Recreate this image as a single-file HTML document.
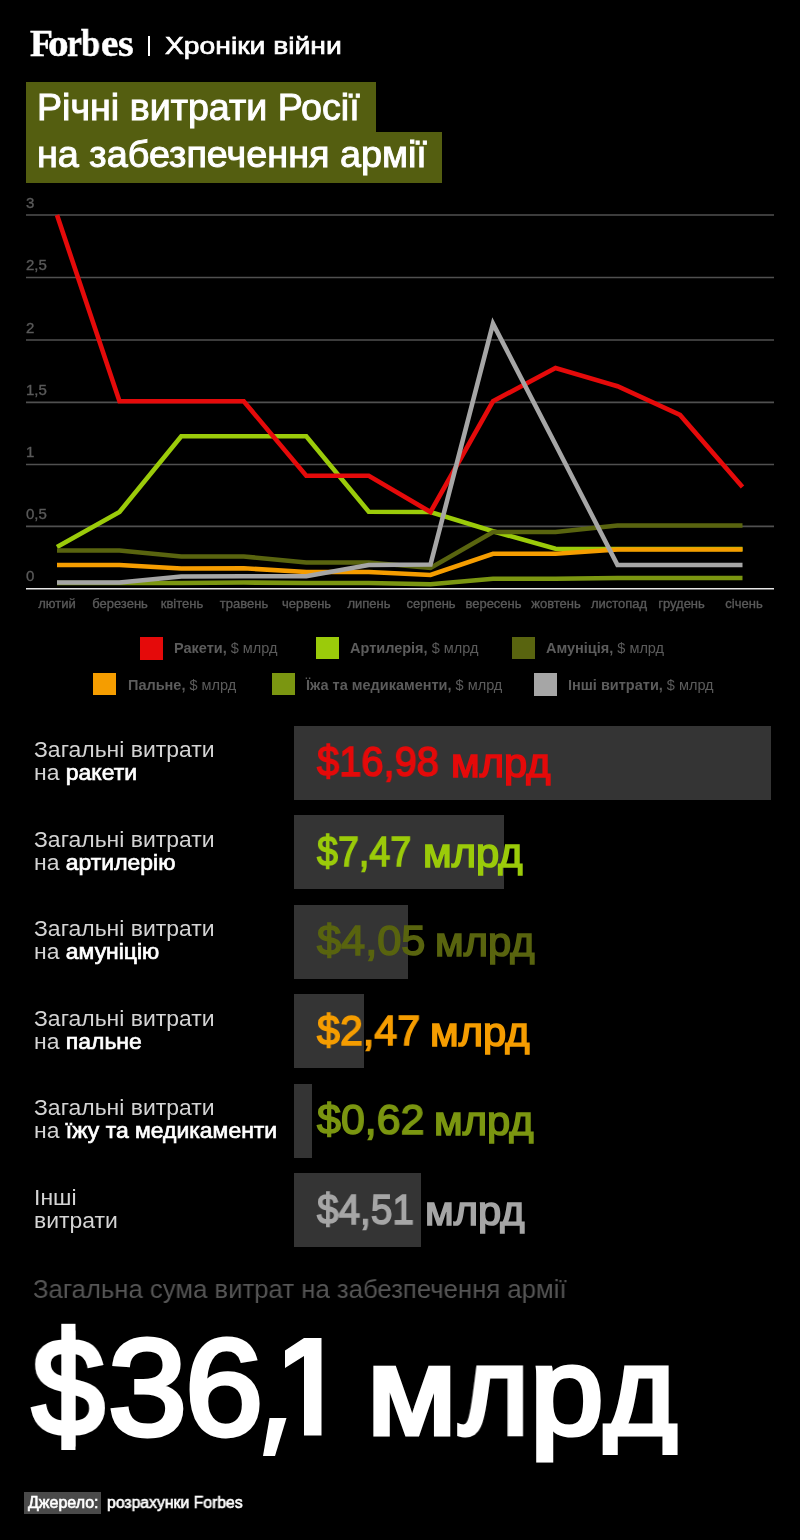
<!DOCTYPE html>
<html><head><meta charset="utf-8">
<style>
html,body{margin:0;padding:0;background:#000;}
body{width:800px;height:1540px;position:relative;overflow:hidden;font-family:"Liberation Sans",sans-serif;}
.a{position:absolute;white-space:nowrap;line-height:1;will-change:transform;}
.sx{transform-origin:0 0;}
</style></head><body>

<!-- header -->
<div id="forbes"><div class="a fb" style="left:30.4px;transform:scaleX(1.0);">F</div><div class="a fb" style="left:48.3px;transform:scaleX(1.1);">o</div><div class="a fb" style="left:66.9px;transform:scaleX(0.9);">r</div><div class="a fb" style="left:80.64px;transform:scaleX(0.917);">b</div><div class="a fb" style="left:101.2px;transform:scaleX(1.043);">e</div><div class="a fb" style="left:117.8px;transform:scaleX(1.069);">s</div></div>
<style>.fb{top:24.6px;font-family:"Liberation Serif",serif;font-weight:bold;font-size:37.5px;color:#fff;-webkit-text-stroke:0.5px #fff;transform-origin:0 0;}</style>
<div class="a" style="left:147.7px;top:36.3px;width:1.9px;height:20.3px;background:#fff;"></div>
<div class="a sx" id="hron" style="left:164.8px;top:33.6px;font-size:24px;color:#fff;-webkit-text-stroke:0.7px #fff;transform:scaleX(1.178);">Хроніки війни</div>

<!-- title -->
<div class="a" style="left:26px;top:82px;width:349.6px;height:50px;background:#545e10;"></div>
<div class="a" style="left:26px;top:132px;width:415.6px;height:50.6px;background:#545e10;"></div>
<div class="a sx" id="t1" style="left:36.6px;top:88.6px;font-size:37px;color:#fff;-webkit-text-stroke:1px #fff;transform:scaleX(1.017);">Річні витрати Росії</div>
<div class="a sx" id="t2" style="left:36.6px;top:136px;font-size:37px;color:#fff;-webkit-text-stroke:1px #fff;transform:scaleX(1.021);">на забезпечення армії</div>

<!-- chart -->
<svg class="a" style="left:0;top:0" width="800" height="620" viewBox="0 0 800 620">
 <g stroke="#505050" stroke-width="1.6">
  <line x1="26" y1="215" x2="774" y2="215"/>
  <line x1="26" y1="277.5" x2="774" y2="277.5"/>
  <line x1="26" y1="340" x2="774" y2="340"/>
  <line x1="26" y1="402.4" x2="774" y2="402.4"/>
  <line x1="26" y1="464.5" x2="774" y2="464.5"/>
  <line x1="26" y1="526.4" x2="774" y2="526.4"/>
 </g>
 <line x1="26" y1="588.75" x2="774" y2="588.75" stroke="#e6e6e6" stroke-width="1.6"/>
 <g font-family="Liberation Sans" font-size="15" fill="#5a5a5a" stroke="#5a5a5a" stroke-width="0.35">
  <text x="26" y="207.5">3</text>
  <text x="26" y="270.25">2,5</text>
  <text x="26" y="332.5">2</text>
  <text x="26" y="394.7">1,5</text>
  <text x="26" y="456.9">1</text>
  <text x="26" y="518.8">0,5</text>
  <text x="26" y="581">0</text>
 </g>
 <g font-family="Liberation Sans" font-size="13" fill="#5a5a5a" stroke="#5a5a5a" stroke-width="0.35" text-anchor="middle">
  <text x="57" y="607.8">лютий</text>
  <text x="120" y="607.8">березень</text>
  <text x="182" y="607.8">квітень</text>
  <text x="244" y="607.8">травень</text>
  <text x="306.5" y="607.8">червень</text>
  <text x="369" y="607.8">липень</text>
  <text x="431" y="607.8">серпень</text>
  <text x="493.5" y="607.8">вересень</text>
  <text x="556" y="607.8">жовтень</text>
  <text x="619" y="607.8">листопад</text>
  <text x="681.5" y="607.8">грудень</text>
  <text x="744" y="607.8">січень</text>
 </g>
 <g fill="none" stroke-width="4.6" stroke-linejoin="miter" stroke-linecap="butt">
  <polyline stroke="#7b9611" points="57,583 119.5,583 181.25,583 243.75,582.5 306.25,583 368.75,583 430.5,584.25 493,578.75 555.5,578.75 617.5,578 680,578 742.5,578"/>
  <polyline stroke="#9bcb0a" points="57,547 119.5,512 181.25,436.25 243.75,436.25 306.25,436.25 368.75,511.75 430.5,512 493,531.25 555.5,548.75 617.5,549 680,549 742.5,549"/>
  <polyline stroke="#59640f" points="57,550.5 119.5,550.5 181.25,556.5 243.75,556.5 306.25,562.5 368.75,562.5 430.5,568 493,532 555.5,532 617.5,525.5 680,525.5 742.5,525.5"/>
  <polyline stroke="#f59d00" points="57,565 119.5,565 181.25,568.5 243.75,568.25 306.25,572 368.75,572 430.5,575 493,553.75 555.5,553.75 617.5,549.5 680,549.5 742.5,549.5"/>
  <polyline stroke="#e50a0a" points="57,215 119.5,401.25 181.25,401.25 243.75,401.25 306.25,475.75 368.75,475.75 430.5,512 493,401.25 555.5,368 617.5,386.25 680,415 742.5,487"/>
  <polyline stroke="#a6a6a6" points="57,582.5 119.5,582.5 181.25,576.5 243.75,576.25 306.25,576.25 368.75,565 430.5,564.5 493,323.75 555.5,444.5 617.5,565 680,565 742.5,565"/>
 </g>
</svg>

<!-- legend -->
<div id="legend">
 <div class="a" style="left:140px;top:637px;width:23px;height:22.5px;background:#e50a0a"></div>
 <div class="a" style="left:315.6px;top:637px;width:22.7px;height:22.2px;background:#9bcb0a"></div>
 <div class="a" style="left:512px;top:637px;width:22.7px;height:22.2px;background:#59640f"></div>
 <div class="a" style="left:93px;top:673px;width:22.7px;height:22px;background:#f59d00"></div>
 <div class="a" style="left:272.4px;top:673px;width:22.7px;height:22px;background:#7b9611"></div>
 <div class="a" style="left:533.75px;top:673px;width:22.5px;height:23px;background:#a6a6a6"></div>
 <div class="a lg" style="left:174.4px;top:641px;"><b>Ракети,</b> $ млрд</div>
 <div class="a lg" style="left:350.1px;top:641px;"><b>Артилерія,</b> $ млрд</div>
 <div class="a lg" style="left:546.4px;top:641px;"><b>Амуніція,</b> $ млрд</div>
 <div class="a lg" style="left:127.6px;top:677.7px;"><b>Пальне,</b> $ млрд</div>
 <div class="a lg" style="left:306.3px;top:677.7px;"><b>Їжа та медикаменти,</b> $ млрд</div>
 <div class="a lg" style="left:568px;top:677.7px;"><b>Інші витрати,</b> $ млрд</div>
</div>
<style>.lg{font-size:14.5px;color:#5c5c5c;}</style>


<!-- bars -->
<style>
.lab{font-size:22.5px;color:#d4d4d4;line-height:23.25px;font-weight:normal;transform:scaleX(1.02);transform-origin:0 0;}
.lab b{font-weight:normal;color:#fff;-webkit-text-stroke:0.7px #fff;}
.bar{position:absolute;left:294px;height:74px;background:#343434;}
.val{font-size:46px;font-weight:bold;line-height:1;transform-origin:0 0;}
.vr{font-weight:normal;-webkit-text-stroke:1.6px currentColor;}
</style>
<div class="a lab" style="left:33.5px;top:738.1px;">Загальні витрати<br>на <b>ракети</b></div>
<div class="bar" style="top:725.5px;width:477px;"></div>
<div class="a val vr" style="left:316.92px;top:740.10px;font-size:43px;color:#e50a0a;transform:scaleX(0.9273);">$16,98</div>
<div class="a val vr" style="left:451.04px;top:743.30px;font-size:41px;color:#e50a0a;transform:scaleX(1.0179);">млрд</div>

<div class="a lab" style="left:33.5px;top:827.6px;">Загальні витрати<br>на <b>артилерію</b></div>
<div class="bar" style="top:815px;width:210px;"></div>
<div class="a val vr" style="left:316.89px;top:829.60px;font-size:43px;color:#9bcb0a;transform:scaleX(0.8756);">$7,47</div>
<div class="a val vr" style="left:422.64px;top:832.80px;font-size:41px;color:#9bcb0a;transform:scaleX(1.0179);">млрд</div>

<div class="a lab" style="left:33.5px;top:917.1px;">Загальні витрати<br>на <b>амуніцію</b></div>
<div class="bar" style="top:904.5px;width:113.75px;"></div>
<div class="a val vr" style="left:316.95px;top:919.10px;font-size:43px;color:#59640f;transform:scaleX(1.0077);">$4,05</div>
<div class="a val vr" style="left:435.14px;top:922.30px;font-size:41px;color:#59640f;transform:scaleX(1.0179);">млрд</div>

<div class="a lab" style="left:33.5px;top:1006.6px;">Загальні витрати<br>на <b>пальне</b></div>
<div class="bar" style="top:994px;width:70px;"></div>
<div class="a val vr" style="left:316.93px;top:1008.60px;font-size:43px;color:#f59d00;transform:scaleX(0.9588);">$2,47</div>
<div class="a val vr" style="left:429.64px;top:1011.80px;font-size:41px;color:#f59d00;transform:scaleX(1.0179);">млрд</div>

<div class="a lab" style="left:33.5px;top:1096.1px;">Загальні витрати<br>на <b>їжу та медикаменти</b></div>
<div class="bar" style="top:1083.5px;width:18.2px;"></div>
<div class="a val vr" style="left:316.95px;top:1098.10px;font-size:43px;color:#7b9611;transform:scaleX(0.9981);">$0,62</div>
<div class="a val vr" style="left:433.79px;top:1101.30px;font-size:41px;color:#7b9611;transform:scaleX(1.0179);">млрд</div>

<div class="a lab" style="left:33.5px;top:1185.6px;">Інші<br>витрати</div>
<div class="bar" style="top:1173px;width:127px;"></div>
<div class="a val vr" style="left:316.91px;top:1187.60px;font-size:43px;color:#a6a6a6;transform:scaleX(0.9007);">$4,51</div>
<div class="a val vr" style="left:424.84px;top:1190.80px;font-size:41px;color:#a6a6a6;transform:scaleX(1.0179);">млрд</div>

<!-- total -->
<div class="a" id="tot" style="left:32.8px;top:1275.8px;font-size:26.5px;color:#555;transform:scaleX(0.97);transform-origin:0 0;">Загальна сума витрат на забезпечення армії</div>
<div class="a bg1" style="left:32.2px;transform:scaleX(0.9455);">$</div>
<div class="a bg1" style="left:108.4px;transform:scaleX(1.0284);">3</div>
<div class="a bg1" style="left:185.4px;transform:scaleX(1.0182);">6</div>
<style>.bg1{top:1317.5px;font-size:138px;color:#fff;-webkit-text-stroke:5px #fff;transform-origin:0 0;}</style>
<svg class="a" style="left:0;top:1300px" width="800" height="200" viewBox="0 1300 800 200"><g fill="#fff">
 <rect x="61.3" y="1323.8" width="14.2" height="126.2"/>
 <polygon points="269.5,1418 286.5,1418 275,1456 263,1456"/>
 <polygon points="321.5,1338 304,1338 285,1350.5 285,1368 304,1356 304,1435.5 321.5,1435.5"/>
</g></svg>
<div class="a bg2" style="left:366.7px;transform:scaleX(1.051);">м</div>
<div class="a bg2" style="left:459.1px;transform:scaleX(0.965);">л</div>
<div class="a bg2" style="left:530.1px;transform:scaleX(1.066);">р</div>
<div class="a bg2" style="left:604.2px;transform:scaleX(1.011);">д</div>
<style>.bg2{top:1328.5px;font-size:124px;color:#fff;-webkit-text-stroke:5px #fff;transform-origin:0 0;}</style>
<div class="a" style="left:592px;top:1454.5px;width:100px;height:16px;background:#000;"></div>

<!-- footer -->
<div class="a" style="left:23.6px;top:1491.6px;width:76.5px;height:21.9px;background:#4a4a4a;"></div>
<div class="a" id="src1" style="left:27.5px;top:1495px;font-size:16px;color:#fff;-webkit-text-stroke:0.6px #fff;">Джерело:</div>
<div class="a" id="src2" style="left:107.4px;top:1495px;font-size:16px;color:#fff;-webkit-text-stroke:0.6px #fff;transform:scaleX(0.985);transform-origin:0 0;">розрахунки Forbes</div>

</body></html>
